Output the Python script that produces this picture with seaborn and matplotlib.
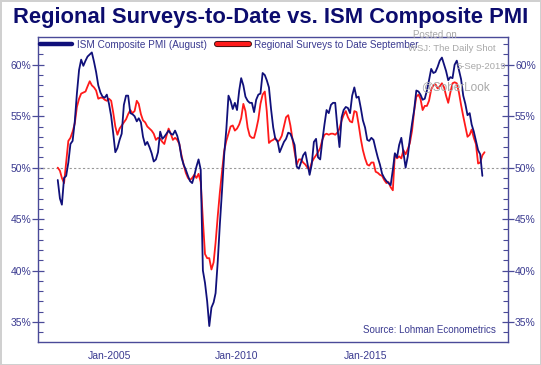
import pandas as pd
import matplotlib.pyplot as plt
import matplotlib.dates as mdates
import matplotlib.ticker as mticker
import matplotlib.patheffects as pe
from matplotlib.lines import Line2D
import seaborn as sns

# ISM Composite PMI, monthly from Jan-2003 to Aug-2019
ism = [48.8, 47.0, 46.4, 49.0, 49.2, 50.5, 52.3, 52.6, 54.5, 57.2, 59.5, 60.5,
       59.9, 60.4, 60.8, 61.0, 61.2, 60.3, 59.3, 58.0, 57.3, 56.9, 56.8, 57.1,
       56.2, 55.0, 53.4, 51.5, 51.9, 52.7, 53.3, 56.1, 57.0, 57.0, 55.3, 55.2,
       55.0, 54.5, 54.8, 54.4, 53.0, 52.2, 52.5, 52.0, 51.4, 50.6, 50.8, 51.5,
       53.5, 52.8, 53.0, 53.3, 53.6, 53.3, 53.2, 53.6, 53.1, 52.3, 51.0, 50.3,
       49.8, 49.2, 48.7, 48.5, 49.2, 50.1, 50.8, 49.8, 40.0, 38.8, 37.0, 34.6,
       36.4, 36.9, 37.8, 40.9, 44.5, 47.8, 51.2, 53.7, 57.0, 56.5, 55.7, 56.3,
       55.6, 57.5, 58.7, 58.0, 56.9, 56.5, 56.3, 56.3, 55.4, 56.6, 57.1, 57.2,
       59.2, 59.0, 58.5, 57.8, 55.7, 53.9, 52.8, 52.6, 51.5, 52.0, 52.5, 52.8,
       53.4, 53.3, 52.8, 52.2, 50.1, 49.9, 50.5, 51.2, 51.5, 50.4, 49.3, 50.3,
       52.5, 52.8, 51.0, 50.8, 52.6, 54.2, 55.6, 55.3, 56.1, 56.3, 56.3, 54.0,
       52.0, 54.9, 55.6, 55.9, 55.8, 55.3, 57.0, 57.8, 56.8, 56.9, 55.8, 54.6,
       53.9, 52.7, 52.6, 52.9, 52.7, 51.8, 51.0, 50.3, 49.4, 49.0, 48.7, 48.5,
       48.3, 49.8, 51.4, 51.0, 52.2, 52.9, 51.5, 50.0, 51.1, 52.8, 54.3, 55.6,
       57.5, 57.4, 57.1, 56.6, 56.7, 57.5, 58.5, 59.6, 59.2, 59.3, 59.8, 60.4,
       60.7, 60.0, 59.4, 58.5, 58.8, 58.7, 60.0, 60.4, 59.5, 58.6, 57.0, 56.2,
       55.1, 55.3, 54.2, 53.5, 52.6, 51.7, 51.3, 49.2]

# Regional surveys to date, monthly from Jan-2003 to Sep-2019
regional = [50.0, 49.7, 49.0, 48.5, 50.5, 52.6, 52.9, 53.5, 54.3, 55.9, 56.7, 57.2,
            57.3, 57.4, 57.9, 58.4, 58.0, 57.8, 57.5, 56.7, 56.8, 56.8, 56.6, 56.5,
            56.7, 56.5, 55.4, 54.0, 53.2, 53.8, 54.1, 54.4, 54.7, 55.2, 55.6, 55.3,
            55.5, 56.5, 56.2, 55.2, 54.6, 54.4, 54.0, 53.8, 53.6, 53.3, 52.7, 52.9,
            52.8, 52.5, 52.3, 53.1, 53.8, 53.3, 52.7, 52.9, 52.7, 52.3, 51.2, 50.3,
            49.5, 49.0, 48.8, 49.0, 49.3, 49.0, 49.4, 48.6, 44.9, 41.6, 41.2, 41.2,
            40.1, 40.8, 42.7, 45.3, 47.6, 49.6, 51.6, 52.6, 53.3, 54.0, 54.1, 53.6,
            53.8, 54.2, 54.8, 56.2, 55.5, 53.9, 53.1, 52.9, 52.9, 53.7, 54.7, 56.2,
            57.1, 57.4, 55.5, 52.4, 52.6, 52.7, 52.9, 52.5, 52.7, 53.1, 54.0, 54.9,
            55.1, 54.1, 52.8, 51.5, 50.3, 50.8, 50.8, 50.5, 50.3, 50.0, 49.8, 50.5,
            50.9, 51.2, 51.5, 51.9, 52.7, 53.2, 53.3, 53.2, 53.3, 53.3, 53.2, 53.4,
            53.8, 54.6, 55.1, 55.5, 54.9, 54.5, 54.4, 55.5, 55.4, 54.2, 52.8, 51.7,
            50.9, 50.3, 50.2, 50.5, 50.5, 49.6, 49.5, 49.3, 49.2, 48.8, 48.5, 48.6,
            48.1, 47.8, 51.3, 50.9, 51.1, 50.9, 51.7, 51.3, 51.8, 52.4, 53.6, 55.5,
            56.9, 57.1, 56.7, 55.6, 56.0, 56.0, 56.5, 57.6, 58.0, 58.1, 57.7, 57.9,
            58.2, 57.8, 57.0, 56.3, 57.3, 58.2, 58.3, 58.2, 57.3, 56.1, 55.0, 54.0,
            53.0, 53.2, 53.7, 52.9, 52.3, 50.4, 50.5, 51.2, 51.5]

tick_dates = ['2005-01-01', '2010-01-01', '2015-01-01']

ism_df = pd.DataFrame({'date': pd.date_range('2003-01-01', periods=len(ism), freq='MS'),
                       'value': ism})
reg_df = pd.DataFrame({'date': pd.date_range('2003-01-01', periods=len(regional), freq='MS'),
                       'value': regional})

navy = '#10107a'
red = '#ff1a1a'
axis_col = '#4a4a98'
label_col = '#3a3a90'

sns.set_style('white')
plt.rcParams['font.family'] = ['Liberation Sans', 'DejaVu Sans']

fig = plt.figure(figsize=(5.41, 3.65), dpi=100)
fig.patch.set_facecolor('white')
fig.patch.set_edgecolor('#d0d0d0')
fig.patch.set_linewidth(2)
ax = fig.add_axes([0.0702, 0.063, 0.869, 0.8356])

# watermark (behind the lines)
wm = '#a8a8a8'
fig.text(0.804, 0.905, 'Posted on', ha='center', va='center', fontsize=7, color=wm, zorder=0)
fig.text(0.836, 0.867, 'WSJ: The Daily Shot', ha='center', va='center', fontsize=6.8, color=wm, zorder=0)
fig.text(0.935, 0.818, '5-Sep-2019', ha='right', va='center', fontsize=6.8, color=wm, zorder=0)
fig.text(0.842, 0.761, '@SoberLook', ha='center', va='center', fontsize=8.5, color=wm, zorder=0)
ax.patch.set_alpha(0)

ax.axhline(50, color='#999999', linestyle=(0, (2, 2)), linewidth=0.8, zorder=1)
sns.lineplot(data=ism_df, x='date', y='value', color=navy, linewidth=1.3, ax=ax, zorder=3)
sns.lineplot(data=reg_df, x='date', y='value', color=red, linewidth=1.3, ax=ax, zorder=2)

ax.set_xlim(pd.Timestamp('2002-03-25'), pd.Timestamp('2020-08-02'))
ax.set_ylim(33.05, 62.7)
ax.set_xlabel('')
ax.set_ylabel('')

ax.xaxis.set_major_locator(mticker.FixedLocator(mdates.date2num(pd.to_datetime(tick_dates))))
ax.xaxis.set_major_formatter(mdates.DateFormatter('%b-%Y'))
ax.yaxis.set_major_locator(mticker.MultipleLocator(5))
ax.yaxis.set_minor_locator(mticker.MultipleLocator(1))
ax.yaxis.set_major_formatter(mticker.FuncFormatter(lambda v, p: f'{v:.0f}%'))

for s in ax.spines.values():
    s.set_color(axis_col)
    s.set_linewidth(1.0)

ax.tick_params(axis='y', which='major', direction='inout', length=8, width=0.9,
               color=axis_col, labelcolor=label_col, labelsize=7.5,
               left=True, right=True, labelleft=True, labelright=True, pad=1)
ax.tick_params(axis='y', which='minor', direction='in', length=3.5, width=0.8,
               color=axis_col, left=True, right=True)
ax.tick_params(axis='x', which='major', direction='inout', length=9, width=0.9,
               color=axis_col, labelcolor=label_col, labelsize=7.5, pad=2)

handles = [
    Line2D([0], [0], color=navy, linewidth=3.2),
    Line2D([0], [0], color=red, linewidth=3.0,
           path_effects=[pe.Stroke(linewidth=4.4, foreground='#401010'), pe.Normal()]),
]
ax.legend(handles, ['ISM Composite PMI (August)', 'Regional Surveys to Date September'],
          loc='upper left', bbox_to_anchor=(0.0, 1.0), ncol=2, frameon=False,
          fontsize=7.2, handlelength=3.2, handletextpad=0.5, columnspacing=1.0,
          borderpad=0.25, borderaxespad=0.0, labelcolor=label_col)

ax.text(0.975, 0.04, 'Source: Lohman Econometrics', transform=ax.transAxes,
        ha='right', va='center', fontsize=7, color=label_col)

fig.text(0.5, 0.951, 'Regional Surveys-to-Date vs. ISM Composite PMI', ha='center',
         va='center', fontsize=15.8, fontweight='bold', color='#0c0c6e')

fig.savefig('out.png', dpi=100)
